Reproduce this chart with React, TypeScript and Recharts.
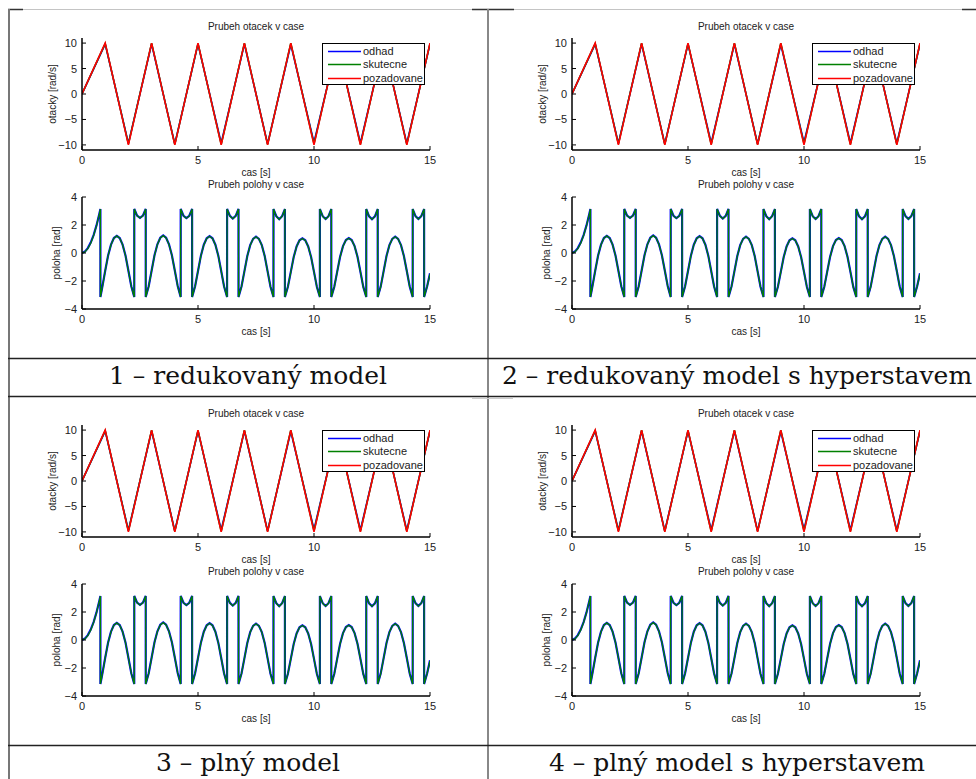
import React from 'react';
import { LineChart, Line, XAxis, YAxis, Legend } from 'recharts';

// values (same simulation shape in all four cells)
const speedTime = [0, 1, 2, 3, 4, 5, 6, 7, 8, 9, 10, 11, 12, 13, 14, 15];
const speedOdhad = [0, 9.8, -9.7, 9.8, -9.8, 9.8, -9.6, 9.8, -9.8, 9.7, -9.5, 9.8, -9.6, 9.8, -9.7, 9.8];
const speedSkutecne = [0, 9.9, -9.8, 10, -9.9, 9.9, -9.9, 10, -9.9, 10, -9.8, 9.9, -9.9, 9.9, -9.9, 9.9];
const speedPozadovane = [0, 10, -10, 10, -10, 10, -10, 10, -10, 10, -10, 10, -10, 10, -10, 10];

const posTime = [
  0, 0.125, 0.25, 0.375, 0.5, 0.625, 0.75, 0.793, 0.794, 0.875,
  1, 1.125, 1.25, 1.375, 1.5, 1.625, 1.75, 1.875, 2, 2.125, 2.253, 2.254, 2.375, 2.5, 2.625, 2.746, 2.747, 2.875,
  3, 3.125, 3.25, 3.375, 3.5, 3.625, 3.75, 3.875, 4, 4.125, 4.253, 4.254, 4.375, 4.5, 4.625, 4.746, 4.747, 4.875,
  5, 5.125, 5.25, 5.375, 5.5, 5.625, 5.75, 5.875, 6, 6.125, 6.253, 6.254, 6.375, 6.5, 6.625, 6.746, 6.747, 6.875,
  7, 7.125, 7.25, 7.375, 7.5, 7.625, 7.75, 7.875, 8, 8.125, 8.253, 8.254, 8.375, 8.5, 8.625, 8.746, 8.747, 8.875,
  9, 9.125, 9.25, 9.375, 9.5, 9.625, 9.75, 9.875, 10, 10.125, 10.253, 10.254, 10.375, 10.5, 10.625, 10.746, 10.747, 10.875,
  11, 11.125, 11.25, 11.375, 11.5, 11.625, 11.75, 11.875, 12, 12.125, 12.253, 12.254, 12.375, 12.5, 12.625, 12.746, 12.747, 12.875,
  13, 13.125, 13.25, 13.375, 13.5, 13.625, 13.75, 13.875, 14, 14.125, 14.253, 14.254, 14.375, 14.5, 14.625, 14.746, 14.747, 14.875,
  15,
];
const posOdhad = [
  0, 0.1, 0.35, 0.74, 1.28, 1.97, 2.82, 3.14, -3.14, -2.44,
  -1.27, -0.18, 0.6, 1.07, 1.23, 1.07, 0.6, -0.18, -1.27, -2.37, -3.14, 3.14, 2.67, 2.51, 2.67, 3.14, -3.14, -2.37,
  -1.27, -0.16, 0.62, 1.09, 1.25, 1.09, 0.62, -0.16, -1.25, -2.36, -3.14, 3.14, 2.66, 2.49, 2.66, 3.14, -3.14, -2.38,
  -1.29, -0.19, 0.59, 1.05, 1.21, 1.05, 0.59, -0.19, -1.29, -2.39, -3.14, 3.14, 2.65, 2.46, 2.65, 3.14, -3.14, -2.39,
  -1.31, -0.21, 0.56, 1.01, 1.17, 1.01, 0.56, -0.21, -1.31, -2.41, -3.14, 3.14, 2.63, 2.41, 2.63, 3.14, -3.14, -2.41,
  -1.35, -0.29, 0.47, 0.91, 1.05, 0.91, 0.47, -0.29, -1.35, -2.43, -3.14, 3.14, 2.63, 2.43, 2.63, 3.14, -3.14, -2.41,
  -1.33, -0.27, 0.49, 0.93, 1.07, 0.93, 0.49, -0.27, -1.33, -2.42, -3.14, 3.14, 2.62, 2.41, 2.62, 3.14, -3.14, -2.4,
  -1.31, -0.21, 0.56, 1.01, 1.17, 1.01, 0.56, -0.21, -1.29, -2.39, -3.14, 3.14, 2.64, 2.43, 2.64, 3.14, -3.14, -2.39,
  -1.45,
];
const posSkutecne = [
  0, 0.08, 0.31, 0.7, 1.25, 1.95, 2.81, 3.14, -3.14, -2.46,
  -1.28, -0.19, 0.59, 1.06, 1.22, 1.06, 0.59, -0.19, -1.28, -2.38, -3.14, 3.14, 2.66, 2.5, 2.66, 3.14, -3.14, -2.38,
  -1.28, -0.17, 0.61, 1.08, 1.24, 1.08, 0.61, -0.17, -1.26, -2.37, -3.14, 3.14, 2.65, 2.48, 2.65, 3.14, -3.14, -2.39,
  -1.3, -0.2, 0.58, 1.04, 1.2, 1.04, 0.58, -0.2, -1.3, -2.4, -3.14, 3.14, 2.64, 2.45, 2.64, 3.14, -3.14, -2.4,
  -1.32, -0.22, 0.55, 1.0, 1.16, 1.0, 0.55, -0.22, -1.32, -2.42, -3.14, 3.14, 2.62, 2.4, 2.62, 3.14, -3.14, -2.42,
  -1.36, -0.3, 0.46, 0.9, 1.04, 0.9, 0.46, -0.3, -1.36, -2.44, -3.14, 3.14, 2.62, 2.42, 2.62, 3.14, -3.14, -2.42,
  -1.34, -0.28, 0.48, 0.92, 1.06, 0.92, 0.48, -0.28, -1.34, -2.43, -3.14, 3.14, 2.61, 2.4, 2.61, 3.14, -3.14, -2.41,
  -1.32, -0.22, 0.55, 1.0, 1.16, 1.0, 0.55, -0.22, -1.3, -2.4, -3.14, 3.14, 2.63, 2.42, 2.63, 3.14, -3.14, -2.4,
  -1.5,
];

const seriesNames = ['odhad', 'skutecne', 'pozadovane'];
const seriesColors = ['#0000ff', '#008000', '#ff0000'];
const timeTicks = [0, 5, 10, 15];
const speedTicks = [-10, -5, 0, 5, 10];
const posTicks = [-4, -2, 0, 2, 4];
const captions = [
  '1 – redukovaný model',
  '2 – redukovaný model s hyperstavem',
  '3 – plný model',
  '4 – plný model s hyperstavem',
];

const speedData = speedTime.map((t, i) => ({
  t,
  odhad: speedOdhad[i],
  skutecne: speedSkutecne[i],
  pozadovane: speedPozadovane[i],
}));
const posData = posTime.map((t, i) => ({ t, odhad: posOdhad[i], skutecne: posSkutecne[i] }));

const FONT = '"Liberation Sans", Arial, Helvetica, sans-serif';
const boxLine = { stroke: '#000', strokeWidth: 1.5 };
const fmt = (v: number) => (v < 0 ? `\u2212${Math.abs(v)}` : `${v}`);

const BottomTick = ({ x, y, payload }: any) => (
  <g>
    <line x1={x} x2={x} y1={y} y2={y - 4} stroke="#000" />
    <text x={x} y={y + 14} textAnchor="middle" fontSize={11} fill="#222" fontFamily={FONT}>
      {fmt(payload.value)}
    </text>
  </g>
);
const LeftTick = ({ x, y, payload }: any) => (
  <g>
    <line x1={x} x2={x + 4} y1={y} y2={y} stroke="#000" />
    <text x={x - 5} y={y + 4} textAnchor="end" fontSize={11} fill="#222" fontFamily={FONT}>
      {fmt(payload.value)}
    </text>
  </g>
);
const TopTick = ({ x, y }: any) => <line x1={x} x2={x} y1={y} y2={y + 4} stroke="#000" />;
const RightTick = ({ x, y }: any) => <line x1={x} x2={x - 4} y1={y} y2={y} stroke="#000" />;

const LegendBox = () => (
  <div style={{
    border: '1.5px solid #000',
    background: '#fff',
    width: 101,
    height: 39,
    boxSizing: 'content-box',
    fontFamily: FONT,
    fontSize: 11,
    color: '#222',
    paddingTop: 1,
  }}>
    {seriesNames.map((n, i) => (
      <div key={n} style={{ display: 'flex', alignItems: 'center', height: 13.3 }}>
        <svg width={40} height={13} style={{ display: 'block' }}>
          <line x1={5} x2={38} y1={6.5} y2={6.5} stroke={seriesColors[i]} strokeWidth={1.5} />
        </svg>
        <span style={{ lineHeight: '13px' }}>{n}</span>
      </div>
    ))}
  </div>
);

function Plot({ left, top, data, yDomain, yTicks, keys, widths, legend }: any) {
  return (
    <div style={{ position: 'absolute', left, top }}>
      <LineChart width={420} height={137} data={data} margin={{ top: 8, right: 12, bottom: 0, left: 0 }}>
        <XAxis
          dataKey="t" type="number" domain={[0, 15]} ticks={timeTicks} allowDataOverflow interval={0}
          height={17} tickSize={0} tickMargin={0} tickLine={false} axisLine={boxLine}
          tick={(p: any) => <BottomTick {...p} />}
        />
        <XAxis
          xAxisId="top" orientation="top" dataKey="t" type="number" domain={[0, 15]} ticks={timeTicks}
          allowDataOverflow interval={0} height={0} tickSize={0} tickMargin={0} tickLine={false}
          axisLine={boxLine} tick={(p: any) => <TopTick {...p} />}
        />
        <YAxis
          type="number" domain={yDomain} ticks={yTicks} allowDataOverflow interval={0}
          width={60} tickSize={0} tickMargin={0} tickLine={false} axisLine={boxLine}
          tick={(p: any) => <LeftTick {...p} />}
        />
        <YAxis
          yAxisId="right" orientation="right" type="number" domain={yDomain} ticks={yTicks}
          allowDataOverflow interval={0} width={0} tickSize={0} tickMargin={0} tickLine={false}
          axisLine={boxLine} tick={(p: any) => <RightTick {...p} />}
        />
        {keys.map((k: string, i: number) => (
          <Line
            key={k} dataKey={k} name={k} type="linear" stroke={seriesColors[seriesNames.indexOf(k)]}
            strokeWidth={widths[i]} dot={false} activeDot={false} isAnimationActive={false}
          />
        ))}
        {legend && (
          <Legend
            layout="vertical" align="center" verticalAlign="middle"
            wrapperStyle={{ left: 300, top: 13, width: 104 }}
            content={() => <LegendBox />}
          />
        )}
      </LineChart>
    </div>
  );
}

const cells = [
  { ox: 0, oy: 0 },
  { ox: 490, oy: 0 },
  { ox: 0, oy: 387 },
  { ox: 490, oy: 387 },
];

export default function App() {
  return (
    <div style={{ position: 'absolute', left: 0, top: 0, width: 976, height: 779, background: '#fff', overflow: 'hidden' }}>
      <svg width={976} height={779} style={{ position: 'absolute', left: 0, top: 0 }}>
        {/* table rules */}
        <line x1={8} x2={976} y1={9.5} y2={9.5} stroke="#c4c4c4" />
        <line x1={8} x2={23} y1={9.5} y2={9.5} stroke="#333" strokeWidth={1.5} />
        <line x1={472} x2={514} y1={9.5} y2={9.5} stroke="#333" strokeWidth={1.5} />
        <line x1={962} x2={976} y1={9.5} y2={9.5} stroke="#333" strokeWidth={1.5} />
        <line x1={9} x2={9} y1={9} y2={779} stroke="#777" strokeWidth={2} />
        <line x1={488} x2={488} y1={9} y2={779} stroke="#888" strokeWidth={2} />
        <line x1={8} x2={976} y1={358.5} y2={358.5} stroke="#222" strokeWidth={1.3} />
        <line x1={8} x2={976} y1={396.5} y2={396.5} stroke="#222" strokeWidth={1.3} />
        <line x1={472} x2={513} y1={398.5} y2={398.5} stroke="#ccc" />
        <line x1={8} x2={976} y1={745.5} y2={745.5} stroke="#222" strokeWidth={1.3} />
        {captions.map((c, i) => (
          <text
            key={c} x={i % 2 === 0 ? 248 : 737} y={i < 2 ? 384 : 771} textAnchor="middle"
            fontFamily='"DejaVu Serif", serif' fontSize={25} fill="#111"
          >
            {c}
          </text>
        ))}
        {cells.map(({ ox, oy }, i) => (
          <g key={i} fontFamily={FONT} fontSize={10} fill="#222">
            <text x={ox + 256} y={oy + 29.5} textAnchor="middle">Prubeh otacek v case</text>
            <text x={ox + 256} y={oy + 176} textAnchor="middle">cas [s]</text>
            <text x={ox + 256} y={oy + 188} textAnchor="middle">Prubeh polohy v case</text>
            <text x={ox + 256} y={oy + 335} textAnchor="middle">cas [s]</text>
            <text transform={`translate(${ox + 55.5},${oy + 94}) rotate(-90)`} textAnchor="middle">otacky [rad/s]</text>
            <text transform={`translate(${ox + 60},${oy + 253}) rotate(-90)`} textAnchor="middle">poloha [rad]</text>
          </g>
        ))}
      </svg>
      {cells.map(({ ox, oy }, i) => (
        <React.Fragment key={i}>
          <Plot
            left={ox + 22} top={oy + 30} data={speedData} yDomain={[-11, 11]} yTicks={speedTicks}
            keys={['odhad', 'skutecne', 'pozadovane']} widths={[1.6, 1.6, 1.6]} legend
          />
          <Plot
            left={ox + 22} top={oy + 189} data={posData} yDomain={[-4, 4]} yTicks={posTicks}
            keys={['odhad', 'skutecne']} widths={[2.2, 1.3]}
          />
        </React.Fragment>
      ))}
    </div>
  );
}
